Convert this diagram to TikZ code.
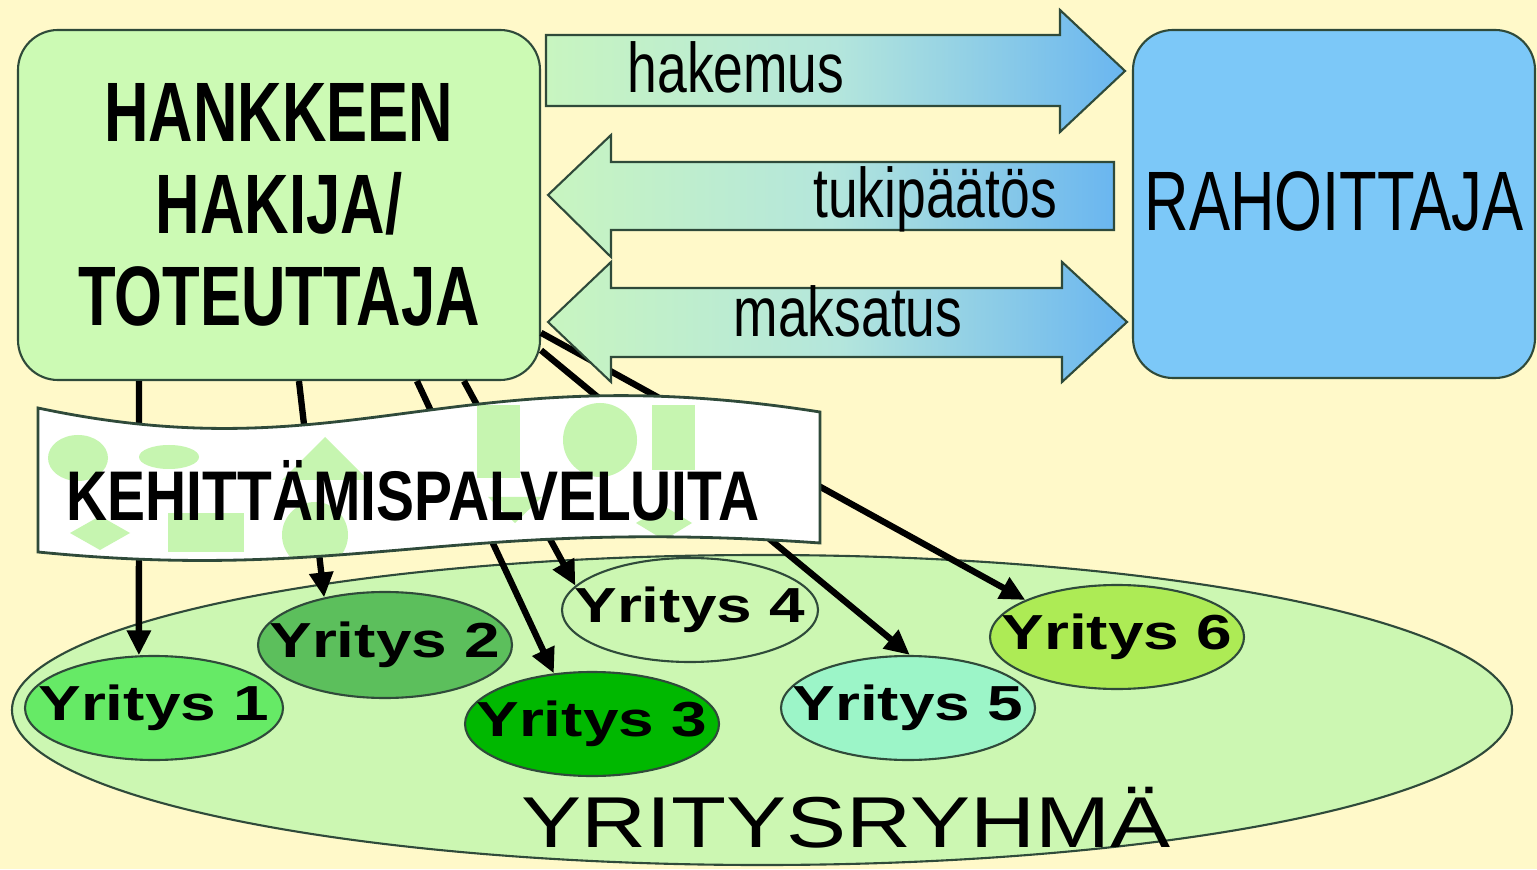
\documentclass[tikz,border=0pt]{standalone}
\usepackage{fontspec}
\usepackage{tikz}
\usetikzlibrary{shapes.geometric,arrows.meta}
\setmainfont{Liberation Sans}
\newfontfamily\KRnarrow[FakeStretch=0.73]{Liberation Sans}
\newfontfamily\KRlabel[FakeStretch=0.76]{Liberation Sans}
\newfontfamily\KRbanner[FakeStretch=0.81]{Liberation Sans}
\newfontfamily\KRwide[FakeStretch=1.30]{Liberation Sans}
\newfontfamily\KRgroup[FakeStretch=1.25]{Liberation Sans}
\definecolor{KRBack}{HTML}{FFF9C9}
\definecolor{KRHakija}{HTML}{CCFAB4}
\definecolor{KRRahoittaja}{HTML}{7CC8F8}
\definecolor{KRArrowG}{HTML}{C8F5C0}
\definecolor{KRArrowM}{HTML}{B4E6DC}
\definecolor{KRArrowB}{HTML}{6AB6F0}
\definecolor{KRGroup}{HTML}{CCF7B2}
\definecolor{KRYOne}{HTML}{66EA66}
\definecolor{KRYTwo}{HTML}{5CBF5C}
\definecolor{KRYThree}{HTML}{00B800}
\definecolor{KRYFour}{HTML}{CCF7B2}
\definecolor{KRYFive}{HTML}{9CF5C8}
\definecolor{KRYSix}{HTML}{ADEB55}
\definecolor{KRDeco}{HTML}{C6F5B0}
\definecolor{KRLine}{HTML}{2F4A3A}

\begin{document}
\begin{tikzpicture}[x=1cm,y=1cm,
  yritys/.style={ellipse,draw=KRLine,line width=0.6pt,minimum width=2.54cm,minimum height=1.04cm,inner xsep=-0.3cm,inner ysep=0pt,font=\KRwide\bfseries\fontsize{14}{16}\selectfont},
  bigbox/.style={rectangle,rounded corners=0.4cm,draw=KRLine,line width=0.6pt,inner sep=0pt,align=center},
  blockarrow/.style={draw=KRLine,line width=0.6pt,left color=KRArrowG,right color=KRArrowB,middle color=KRArrowM},
  arrowlabel/.style={anchor=base,font=\KRlabel\fontsize{20}{22}\selectfont},
  link/.style={line width=1.8pt,-{Triangle[length=0.25cm,width=0.23cm]}},
  deco/.style={fill=KRDeco}]
\path[use as bounding box] (0,0) rectangle (15.37,8.69);
\fill[KRBack] (0,0) rectangle (15.37,8.69);
% yritysryhma
\node[ellipse,draw=KRLine,line width=0.6pt,fill=KRGroup,minimum width=15cm,minimum height=3.1cm,inner sep=0pt] (ryhma) at (7.62,1.59) {};
\node[anchor=base,font=\KRgroup\fontsize{20.5}{22}\selectfont] (ryhmatext) at (8.46,0.22) {YRITYSRYHMÄ};
\node[yritys,fill=KRYOne,minimum width=2.58cm] (y1) at (1.54,1.61) {Yritys 1};
\node[yritys,fill=KRYTwo,minimum height=1.06cm] (y2) at (3.85,2.24) {Yritys 2};
\node[yritys,fill=KRYThree] (y3) at (5.92,1.45) {Yritys 3};
\node[yritys,fill=KRYFour,minimum width=2.56cm] (y4) at (6.90,2.59) {Yritys 4};
\node[yritys,fill=KRYFive] (y5) at (9.08,1.61) {Yritys 5};
\node[yritys,fill=KRYSix] (y6) at (11.17,2.32) {Yritys 6};
% main boxes
\node[bigbox,fill=KRHakija,minimum width=5.22cm,minimum height=3.5cm,font=\KRnarrow\bfseries\fontsize{24}{26.2}\selectfont] (hakija) at (2.79,6.64) {HANKKEEN\\HAKIJA/\\TOTEUTTAJA};
\node[bigbox,fill=KRRahoittaja,minimum width=4.02cm,minimum height=3.48cm,font=\KRnarrow\fontsize{24}{26}\selectfont] (rahoittaja) at (13.34,6.65) {\raisebox{0.06cm}{RAHOITTAJA}};
% palvelut yrityksille
\draw[link] ([xshift=1.22cm]hakija.south west) -- (y1.106);
\draw[link] ([xshift=2.82cm]hakija.south west) -- (y2.142);
\draw[link] ([xshift=4.00cm]hakija.south west) -- (y3.127);
\draw[link] ([xshift=4.47cm]hakija.south west) -- (y4.168);
\draw[link] (hakija.-29) -- (y5.88);
\draw[link] (hakija.-26) -- (y6.158);
% hakija <-> rahoittaja
\path[blockarrow] (5.46,8.34) -- (10.60,8.34) -- (10.60,8.59) -- (11.25,7.98) -- (10.60,7.37) -- (10.60,7.63) -- (5.46,7.63) -- cycle;
\node[arrowlabel] (hakemus) at (7.36,7.76) {hakemus};
\path[blockarrow] (5.48,6.74) -- (6.11,7.34) -- (6.11,7.07) -- (11.14,7.07) -- (11.14,6.39) -- (6.11,6.39) -- (6.11,6.12) -- cycle;
\node[arrowlabel] (tukipaatos) at (9.35,6.51) {tukipäätös};
\path[blockarrow] (5.48,5.47) -- (6.11,6.07) -- (6.11,5.81) -- (10.62,5.81) -- (10.62,6.07) -- (11.27,5.47) -- (10.62,4.87) -- (10.62,5.12) -- (6.11,5.12) -- (6.11,4.87) -- cycle;
\node[arrowlabel] (maksatus) at (8.48,5.32) {maksatus};
% banner
\begin{scope}
\clip (0.38,4.61) .. controls (3.5,3.95) and (4.5,5.15) .. (8.20,4.57) -- (8.20,3.26) .. controls (4.5,3.52) and (3.5,2.86) .. (0.38,3.17) -- cycle;
\fill[white] (0,2.5) rectangle (9,5.5);
\fill[deco] (0.78,4.11) ellipse (0.30 and 0.23);
\fill[deco] (1.69,4.12) ellipse (0.30 and 0.12);
\fill[deco] (0.70,3.36) -- (1.00,3.53) -- (1.30,3.36) -- (1.00,3.19) -- cycle;
\fill[deco] (1.68,3.17) rectangle (2.44,3.56);
\fill[deco] (2.82,3.89) -- (3.68,3.89) -- (3.25,4.32) -- cycle;
\fill[deco] (3.15,3.34) circle (0.33);
\fill[deco] (4.77,3.91) rectangle (5.20,4.64);
\fill[deco] (4.88,3.72) -- (5.42,3.72) -- (5.15,3.46) -- cycle;
\fill[deco] (6.00,4.29) circle (0.37);
\fill[deco] (6.52,3.99) rectangle (6.95,4.64);
\fill[deco] (6.36,3.46) -- (6.64,3.63) -- (6.92,3.46) -- (6.64,3.29) -- cycle;
\end{scope}
\draw[KRLine,line width=0.8pt] (0.38,4.61) .. controls (3.5,3.95) and (4.5,5.15) .. (8.20,4.57) -- (8.20,3.26) .. controls (4.5,3.52) and (3.5,2.86) .. (0.38,3.17) -- cycle;
\node[anchor=base,font=\KRbanner\bfseries\fontsize{20}{22}\selectfont] (banner) at (4.13,3.49) {KEHITTÄMISPALVELUITA};
\end{tikzpicture}
\end{document}
